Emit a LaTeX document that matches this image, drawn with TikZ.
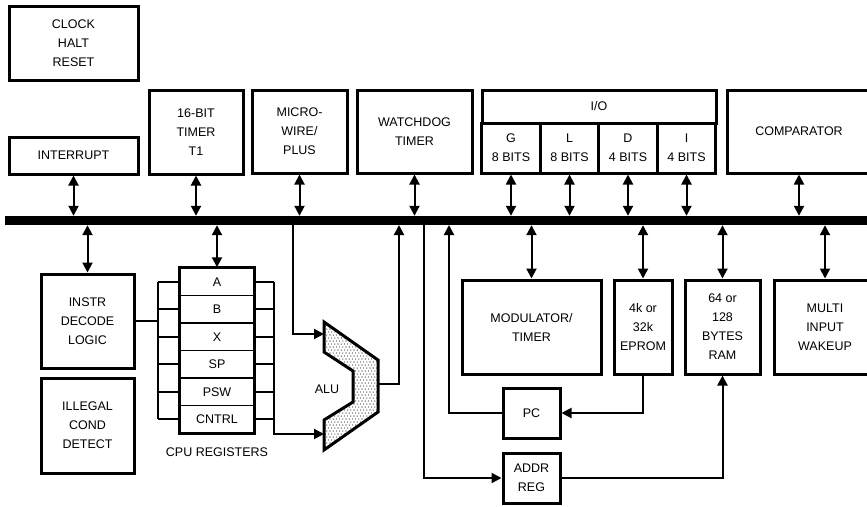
\documentclass[tikz,border=0pt]{standalone}
\usepackage{fontspec}
\setmainfont{Liberation Sans}
\usetikzlibrary{arrows.meta, patterns, positioning}

\begin{document}
\begin{tikzpicture}[x=1pt, y=-1pt,
    block/.style={draw, line width=3pt, align=center, inner sep=0pt, font=\fontsize{12.5}{19}\selectfont},
    reg/.style={draw, line width=1.5pt, minimum width=74pt, minimum height=27.5pt, inner sep=0pt, font=\fontsize{12.5}{15}\selectfont},
    wire/.style={line width=2pt},
    dbl/.style={wire, {Triangle[length=10pt,width=10pt]}-{Triangle[length=10pt,width=10pt]}},
    arr/.style={wire, -{Triangle[length=10pt,width=10pt]}}]
    \useasboundingbox (0,0) rectangle (867,506);
    \clip (0,0) rectangle (867,506);

    % blocks above the bus
    \node (clock) [block, minimum width=129pt, minimum height=74pt] at (73.5,43) {CLOCK\\HALT\\RESET};
    \node (intr) [block, minimum width=129pt, minimum height=37pt] at (73.5,155.5) {INTERRUPT};
    \node (timer) [block, minimum width=94pt, minimum height=84pt] at (196,132) {16-BIT\\TIMER\\T1};
    \node (uwire) [block, minimum width=95pt, minimum height=83pt] at (299.5,131.5) {MICRO-\\WIRE/\\PLUS};
    \node (wdog) [block, minimum width=115pt, minimum height=83pt] at (414.5,131.5) {WATCHDOG\\TIMER};
    \node (io) [block, minimum width=234pt, minimum height=33pt] at (599,106.5) {I/O};
    \foreach \port/\bits/\x in {G/8/511, L/8/569.5, D/4/628, I/4/686.5}
        \node (port\port) [block, minimum width=58.5pt, minimum height=50pt] at (\x,148) {\port\\\bits\ BITS};
    \node (comp) [block, minimum width=144pt, minimum height=83pt] at (799,131.5) {COMPARATOR};

    % the bus
    \node (bus) [fill, minimum width=862pt, minimum height=9pt, inner sep=0pt] at (436,220.5) {};

    % blocks below the bus
    \node (instr) [block, minimum width=93pt, minimum height=94pt] at (87.5,321) {INSTR\\DECODE\\LOGIC};
    \node (illegal) [block, minimum width=93pt, minimum height=95pt] at (87.5,425.5) {ILLEGAL\\COND\\DETECT};
    \foreach \r [count=\i] in {A,B,X,SP,PSW,CNTRL}
        \node (r\i) [reg] at (217,254.25+27.5*\i) {\r};
    \draw [line width=3pt] (r1.north west) rectangle (r6.south east);
    \node (cpulbl) [below=10pt of r6, font=\fontsize{12.5}{15}\selectfont] {CPU REGISTERS};
    \node (mod) [block, minimum width=139pt, minimum height=94pt] at (531.5,327) {MODULATOR/\\TIMER};
    \node (eprom) [block, minimum width=58pt, minimum height=94pt] at (643,327) {4k or\\32k\\EPROM};
    \node (ram) [block, minimum width=75pt, minimum height=94pt] at (722.5,327) {64 or\\128\\BYTES\\RAM};
    \node (wake) [block, minimum width=102pt, minimum height=94pt] at (825,327) {MULTI\\INPUT\\WAKEUP};
    \node (pc) [block, minimum width=57pt, minimum height=50pt] at (531.5,413) {PC};
    \node (addr) [block, minimum width=57pt, minimum height=50pt] at (531.5,478) {ADDR\\REG};

    % ALU
    \begin{scope}
        \clip (324,322) -- (378,360) -- (378,412) -- (324,450) -- (324,420) -- (353,402)
            -- (353,371) -- (324,352) -- cycle;
        \foreach \dx in {0,...,18}
            \foreach \dy in {0,...,44}
                \fill ({322+3.2*\dx+1.6*mod(\dy,2)},{320+3*\dy}) circle (0.55pt);
    \end{scope}
    \draw [line width=3pt, line join=miter]
        (324,322) -- (378,360) -- (378,412) -- (324,450) -- (324,420) -- (353,402)
        -- (353,371) -- (324,352) -- cycle;
    \node (alu) [font=\fontsize{12.5}{15}\selectfont] at (327,389) {ALU};
    \coordinate (aluA) at (324,334);
    \coordinate (aluB) at (324,434);
    \coordinate (aluY) at (378,384);

    % bus taps
    \coordinate (tapA) at (293,225);
    \coordinate (tapY) at (399,225);
    \coordinate (tapAddr) at (424,225);
    \coordinate (tapPC) at (449,225);

    \foreach \n in {intr, timer, uwire, wdog, portG, portL, portD, portI, comp}
        \draw [dbl] (\n.south) -- (\n.south |- bus.north);
    \foreach \n in {instr, r1, mod, eprom, ram, wake}
        \draw [dbl] (bus.south -| \n.north) -- (\n.north);

    % register file links
    \foreach \i in {1,...,6} {
        \draw [wire] (r\i.west) -- ++(-21,0);
        \draw [wire] (r\i.east) -- ++(19,0);
    }
    \coordinate (lbus) at ([xshift=-21pt]r1.west);
    \coordinate (rbus) at ([xshift=19pt]r1.east);
    \draw [wire] (lbus) -- (lbus |- r6.west);
    \draw [wire] (instr.east) -- (instr.east -| lbus);
    \draw [arr] (rbus) |- (aluB);
    \draw [arr] (tapA) |- (aluA);
    \draw [arr] (aluY) -| (tapY);

    \draw [arr] (tapAddr) |- (addr.west);
    \draw [arr] (pc.west) -| (tapPC);
    \draw [arr] (eprom.south) |- (pc.east);
    \draw [arr] (addr.east) -| (ram.south);
\end{tikzpicture}
\end{document}
